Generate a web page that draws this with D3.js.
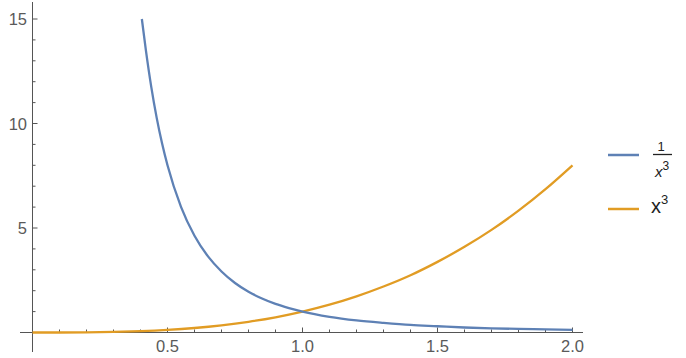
<!DOCTYPE html>
<meta charset="utf-8">
<html>
<head>
<meta charset="utf-8">
<title>plot</title>
<style>
  body { margin: 0; background: #fff; }
  .lbl { font-family: "Liberation Sans", Arial, sans-serif; fill: #222; }
</style>
</head>
<body>
<svg width="686" height="358"></svg>
<script src="https://d3js.org/d3.v7.min.js"></script>
<script>

// values
var invX = [0.405, 0.42, 0.44, 0.46, 0.48, 0.5, 0.55, 0.6, 0.65, 0.7, 0.75, 0.8, 0.85, 0.9, 0.95, 1.0, 1.1, 1.2, 1.3, 1.4, 1.5, 1.6, 1.7, 1.8, 1.9, 2.0];
var invY = [15.0, 13.5, 11.74, 10.27, 9.04, 8.0, 6.01, 4.63, 3.64, 2.92, 2.37, 1.95, 1.63, 1.37, 1.17, 1.0, 0.75, 0.58, 0.46, 0.36, 0.30, 0.24, 0.20, 0.17, 0.15, 0.125];

var cubeX = [0, 0.1, 0.2, 0.3, 0.4, 0.5, 0.6, 0.7, 0.8, 0.9, 1.0, 1.1, 1.2, 1.3, 1.4, 1.5, 1.6, 1.7, 1.8, 1.9, 2.0];
var cubeY = [0, 0.001, 0.008, 0.027, 0.064, 0.125, 0.216, 0.343, 0.512, 0.729, 1.0, 1.33, 1.73, 2.2, 2.74, 3.38, 4.1, 4.91, 5.83, 6.86, 8.0];

var xTicks = [0.5, 1.0, 1.5, 2.0];
var xMinor = d3.range(1, 21).map(function(i) { return i / 10; });
var yTicks = [5, 10, 15];
var yMinor = d3.range(1, 16);

var blue = "#5e81b5", orange = "#e19c24";
var axisCol = "#555", labelCol = "#5a5a5a";

var svg = d3.select("svg");

var x = d3.scaleLinear().domain([0, 2]).range([32.5, 572.5]);
var y = d3.scaleLinear().domain([0, 15]).range([332.5, 19]);

// axes lines
svg.append("line").attr("x1", 20).attr("x2", 583).attr("y1", y(0)).attr("y2", y(0))
  .attr("stroke", axisCol);
svg.append("line").attr("x1", x(0)).attr("x2", x(0)).attr("y1", 2).attr("y2", 352)
  .attr("stroke", axisCol);

// x ticks (pointing up into the plot)
svg.append("g").selectAll("line").data(xMinor).enter().append("line")
  .attr("x1", function(d) { return x(d); }).attr("x2", function(d) { return x(d); })
  .attr("y1", y(0)).attr("y2", function(d) { return y(0) - (xTicks.indexOf(d) >= 0 ? 5 : 3); })
  .attr("stroke", axisCol);
svg.append("g").selectAll("text").data(xTicks).enter().append("text")
  .attr("x", function(d) { return x(d); }).attr("y", 352)
  .attr("text-anchor", "middle")
  .style("font-family", "Liberation Sans, Arial, sans-serif").style("font-size", "16.5px").style("fill", labelCol)
  .text(function(d) { return d.toFixed(1); });

// y ticks (pointing right)
svg.append("g").selectAll("line").data(yMinor).enter().append("line")
  .attr("y1", function(d) { return y(d); }).attr("y2", function(d) { return y(d); })
  .attr("x1", x(0)).attr("x2", function(d) { return x(0) + (yTicks.indexOf(d) >= 0 ? 5 : 3); })
  .attr("stroke", axisCol);
svg.append("g").selectAll("text").data(yTicks).enter().append("text")
  .attr("x", 27).attr("y", function(d) { return y(d) + 6; })
  .attr("text-anchor", "end")
  .style("font-family", "Liberation Sans, Arial, sans-serif").style("font-size", "16.5px").style("fill", labelCol)
  .text(function(d) { return d; });

var line = d3.line()
  .x(function(d) { return x(d[0]); })
  .y(function(d) { return y(d[1]); })
  .curve(d3.curveMonotoneX);

svg.append("path").datum(d3.zip(cubeX, cubeY))
  .attr("d", line).attr("fill", "none").attr("stroke", orange).attr("stroke-width", 2.3);
svg.append("path").datum(d3.zip(invX, invY))
  .attr("d", line).attr("fill", "none").attr("stroke", blue).attr("stroke-width", 2.3);

// legend
var lg = svg.append("g");
lg.append("line").attr("x1", 608).attr("x2", 639).attr("y1", 155).attr("y2", 155)
  .attr("stroke", blue).attr("stroke-width", 2.5);
lg.append("text").attr("class", "lbl").attr("x", 661).attr("y", 150.5)
  .attr("text-anchor", "middle").style("font-size", "13px").text("1");
lg.append("line").attr("x1", 653).attr("x2", 672).attr("y1", 154.5).attr("y2", 154.5)
  .attr("stroke", "#222").attr("stroke-width", 1.3);
var t1 = lg.append("text").attr("class", "lbl").attr("x", 655).attr("y", 177).style("font-size", "15px");
t1.append("tspan").style("font-style", "italic").text("x");
t1.append("tspan").attr("dy", -7).style("font-size", "12px").text("3");

lg.append("line").attr("x1", 608).attr("x2", 639).attr("y1", 209).attr("y2", 209)
  .attr("stroke", orange).attr("stroke-width", 2.5);
var t2 = lg.append("text").attr("class", "lbl").attr("x", 651).attr("y", 213).style("font-size", "20px");
t2.append("tspan").text("x");
t2.append("tspan").attr("dy", -9).style("font-size", "13px").text("3");

</script>
</body>
</html>
